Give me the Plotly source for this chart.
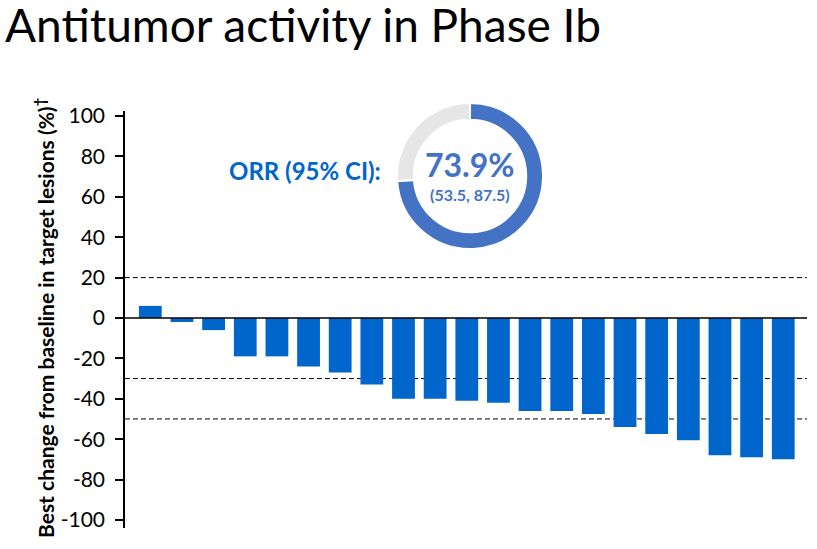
import plotly.graph_objects as go

# ---- data ----
patients = list(range(1, 22))
best_change = [6, -2, -6, -19, -19, -24, -27, -33, -40, -40, -41, -42, -46, -46, -47.5,
               -54, -57.5, -60.5, -68, -69, -70]
threshold_lines = [20, -30, -50]
y_ticks = [100, 80, 60, 40, 20, 0, -20, -40, -60, -80, -100]
y_tick_labels = ["100", "80", "60", "40", "20", "0", "-20", "-40", "-60", "-80", "-100"]
orr_value = 73.9
orr_ci = (53.5, 87.5)

W, H = 817, 549
L, R, T, B = 125, 10, 90, 21
PW, PH = W - L - R, H - T - B

def px(x):
    return (x - L) / PW

def py(y):
    return (H - B - y) / PH

FONT = "Lato, 'Open Sans', sans-serif"
BAR = "#0066cc"
RING = "#4472c4"

fig = go.Figure()
fig.add_trace(go.Bar(
    x=[p - 1 for p in patients], y=best_change,
    marker=dict(color=BAR, line=dict(width=0)),
    width=0.72, showlegend=False, hoverinfo="y",
))

fig.add_trace(go.Pie(
    values=[orr_value, 100 - orr_value],
    marker=dict(colors=[RING, "#e6e6e6"], line=dict(color="white", width=2)),
    hole=0.77, sort=False, direction="clockwise", rotation=0,
    textinfo="none", hoverinfo="skip", showlegend=False,
    domain=dict(x=[px(470 - 73), px(470 + 73)], y=[py(176 + 73), py(176 - 73)]),
))

shapes = []
for v in threshold_lines:
    shapes.append(dict(type="line", xref="paper", yref="y", x0=0, x1=1, y0=v, y1=v,
                       line=dict(color="black", width=1, dash="5px,3px"), layer="below"))
shapes.append(dict(type="line", xref="paper", yref="y", x0=0, x1=1, y0=0, y1=0,
                   line=dict(color="black", width=1.5), layer="above"))

annotations = [
    dict(text="Antitumor activity in Phase Ib", xref="paper", yref="paper",
         x=px(3), y=py(25), xanchor="left", yanchor="middle", showarrow=False,
         font=dict(family=FONT, size=46, color="black")),
    dict(text="<b>Best change from baseline in target lesions (%)<sup>†</sup></b>",
         xref="paper", yref="paper", x=px(44), y=py(318), textangle=-90,
         xanchor="center", yanchor="middle", showarrow=False,
         font=dict(family=FONT, size=21, color="black")),
    dict(text="<b>ORR (95% CI):</b>", xref="paper", yref="paper",
         x=px(305), y=py(170), xanchor="center", yanchor="middle", showarrow=False,
         font=dict(family=FONT, size=24, color=BAR)),
    dict(text=f"<b>{orr_value}%</b>", xref="paper", yref="paper",
         x=px(470), y=py(164), xanchor="center", yanchor="middle", showarrow=False,
         font=dict(family=FONT, size=32, color=RING)),
    dict(text=f"<b>({orr_ci[0]}, {orr_ci[1]})</b>", xref="paper", yref="paper",
         x=px(470), y=py(194), xanchor="center", yanchor="middle", showarrow=False,
         font=dict(family=FONT, size=16, color=RING)),
]

fig.update_layout(
    width=W, height=H,
    margin=dict(l=L, r=R, t=T, b=B, autoexpand=False),
    paper_bgcolor="white", plot_bgcolor="white",
    xaxis=dict(visible=False, range=[-0.8, 20.75]),
    yaxis=dict(range=[-104, 102.5], domain=[0, (528 - 111) / PH],
               tickvals=y_ticks, ticktext=y_tick_labels,
               ticks="outside", ticklen=8, tickwidth=1.5, ticklabelstandoff=6,
               tickcolor="black", showline=True, linecolor="black", linewidth=1.5,
               showgrid=False, zeroline=False,
               tickfont=dict(family=FONT, size=21, color="black")),
    shapes=shapes, annotations=annotations, bargap=0.28,
)

fig.write_html("out.html")
